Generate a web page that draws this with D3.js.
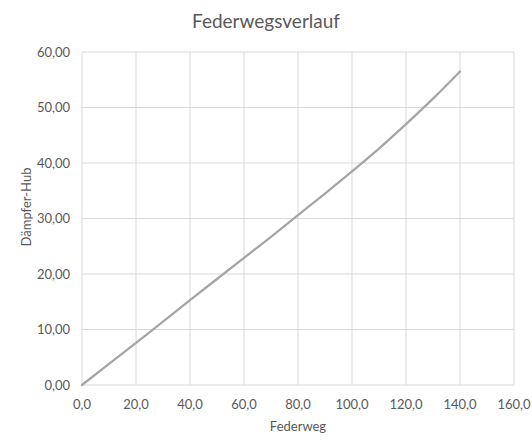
<!DOCTYPE html>
<meta charset="utf-8">
<script src="https://d3js.org/d3.v7.min.js"></script>
<style>
  body { margin: 0; background: #fff; }
  text { font-family: Lato, "Open Sans", sans-serif; fill: #595959; }
</style>
<svg id="chart" width="532" height="441"></svg>
<script>

  // data
  var federweg = [0, 10, 20, 30, 40, 50, 60, 70, 80, 90, 100, 110, 120, 130, 140];
  var hub = [0, 3.8, 7.6, 11.4, 15.3, 19.1, 22.9, 26.7, 30.6, 34.5, 38.5, 42.6, 47.0, 51.6, 56.5];
  var xTicks = [0, 20, 40, 60, 80, 100, 120, 140, 160];
  var yTicks = [0, 10, 20, 30, 40, 50, 60];

  var svg = d3.select("#chart");

  var x = d3.scaleLinear().domain([0, 160]).range([82, 514]);
  var y = d3.scaleLinear().domain([0, 60]).range([385, 52]);

  var fmtX = function (d) { return d3.format(".1f")(d).replace(".", ","); };
  var fmtY = function (d) { return d3.format(".2f")(d).replace(".", ","); };

  // gridlines
  svg.append("g")
    .selectAll("line")
    .data(xTicks)
    .enter()
    .append("line")
    .attr("x1", function (d) { return x(d); })
    .attr("x2", function (d) { return x(d); })
    .attr("y1", y(0))
    .attr("y2", y(60))
    .attr("stroke", "#d9d9d9")
    .attr("stroke-width", 1);

  svg.append("g")
    .selectAll("line")
    .data(yTicks)
    .enter()
    .append("line")
    .attr("x1", x(0))
    .attr("x2", x(160))
    .attr("y1", function (d) { return y(d); })
    .attr("y2", function (d) { return y(d); })
    .attr("stroke", "#d9d9d9")
    .attr("stroke-width", 1);

  // tick labels
  svg.append("g")
    .selectAll("text")
    .data(xTicks)
    .enter()
    .append("text")
    .attr("x", function (d) { return x(d); })
    .attr("y", 409)
    .attr("text-anchor", "middle")
    .style("font-size", "13px")
    .text(fmtX);

  svg.append("g")
    .selectAll("text")
    .data(yTicks)
    .enter()
    .append("text")
    .attr("x", 70)
    .attr("y", function (d) { return y(d) + 4.5; })
    .attr("text-anchor", "end")
    .style("font-size", "13px")
    .text(fmtY);

  // the curve
  var line = d3.line()
    .x(function (d, i) { return x(federweg[i]); })
    .y(function (d) { return y(d); })
    .curve(d3.curveMonotoneX);

  svg.append("path")
    .datum(hub)
    .attr("d", line)
    .attr("fill", "none")
    .attr("stroke", "#a5a5a5")
    .attr("stroke-width", 2.25)
    .attr("stroke-linecap", "round");

  // titles
  svg.append("text")
    .attr("x", 266)
    .attr("y", 28)
    .attr("text-anchor", "middle")
    .style("font-size", "19px")
    .text("Federwegsverlauf");

  svg.append("text")
    .attr("x", 298)
    .attr("y", 431)
    .attr("text-anchor", "middle")
    .style("font-size", "13px")
    .text("Federweg");

  svg.append("text")
    .attr("transform", "translate(31,207) rotate(-90)")
    .attr("text-anchor", "middle")
    .style("font-size", "13px")
    .text("Dämpfer-Hub");

</script>
